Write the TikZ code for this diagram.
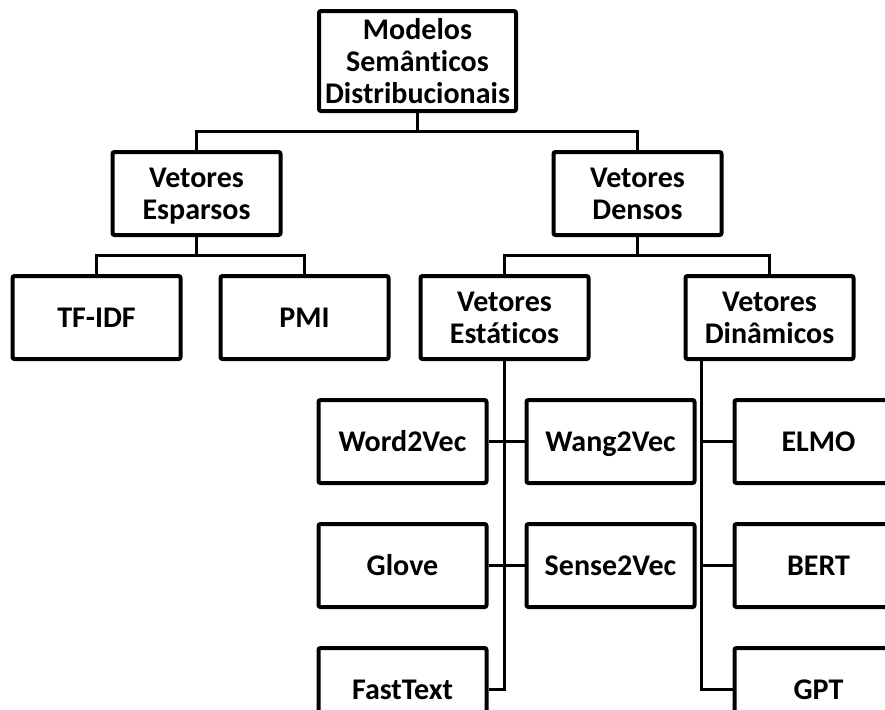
\documentclass[tikz,border=0pt]{standalone}
\usepackage{fontspec}
\setmainfont[RawFeature={-liga;-clig;-dlig}]{Carlito}
\usetikzlibrary{positioning,shadows}

\begin{document}
\begin{tikzpicture}[x=0.5pt, y=-0.5pt, node distance=18.5pt and 18pt,
  bx/.style={draw, line width=2pt, rounded corners=1pt, fill=white, inner sep=2pt,
    minimum width=84pt, minimum height=41.5pt, align=center, text depth=0pt,
    font=\fontsize{15}{16}\selectfont\bfseries,
    drop shadow={shadow xshift=0.7pt, shadow yshift=-0.9pt, opacity=0.25}},
  lf/.style={bx, text height=9.7pt},
  rt/.style={bx, minimum width=98.5pt, minimum height=50pt},
  ln/.style={line width=1.5pt}]
\clip (0,0) rectangle (885,709);
\node[rt] (mod) at (417.5,61) {Modelos\\Semânticos\\Distribucionais};
\node[bx, below=of mod, xshift=-110.5pt] (esp) {Vetores\\Esparsos};
\node[bx, below=of mod, xshift=110pt] (den) {Vetores\\Densos};
\node[lf, below=of esp, xshift=-50pt] (tfidf) {TF-IDF};
\node[lf, right=of tfidf] (pmi) {PMI};
\node[bx, below=of den, xshift=-66.5pt] (est) {Vetores\\Estáticos};
\node[bx, below=of den, xshift=66pt] (din) {Vetores\\Dinâmicos};
\node[lf, below=of est, xshift=-51pt] (w2v) {Word2Vec};
\node[lf, right=of w2v] (wang) {Wang2Vec};
\node[lf, right=of wang] (elmo) {ELMO};
\node[lf, below=of w2v] (glove) {Glove};
\node[lf, below=of wang] (sense) {Sense2Vec};
\node[lf, below=of elmo] (bert) {BERT};
\node[lf, below=of glove] (fast) {FastText};
\node[lf, below=of bert] (gpt) {GPT};
% arvore
\draw[ln] (mod.south) -- ++(0,-9.25pt);
\draw[ln] (esp.north) -- ++(0,9.25pt) -| (den.north);
\draw[ln] (esp.south) -- ++(0,-9.25pt);
\draw[ln] (tfidf.north) -- ++(0,9.25pt) -| (pmi.north);
\draw[ln] (den.south) -- ++(0,-9.25pt);
\draw[ln] (est.north) -- ++(0,9.25pt) -| (din.north);
% estaticos
\draw[ln] (est.south) |- (fast.east);
\draw[ln] (w2v) -- (wang);
\draw[ln] (glove) -- (sense);
% dinamicos
\coordinate (sp) at ([xshift=9pt]din.south west);
\draw[ln] (sp) |- (gpt.west);
\draw[ln] (elmo.west) -- (elmo.west -| sp);
\draw[ln] (bert.west) -- (bert.west -| sp);
\end{tikzpicture}
\end{document}
